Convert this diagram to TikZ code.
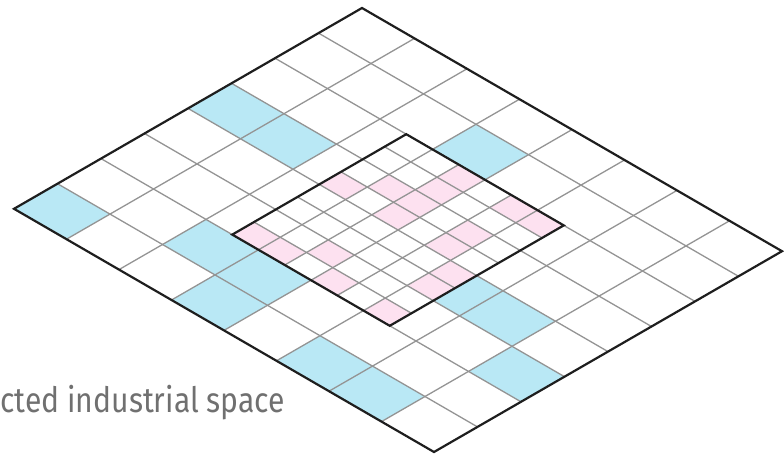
\documentclass[tikz,border=0pt]{standalone}
\usepackage{fontspec}
\setmainfont{Fira Sans}
\definecolor{cellblue}{HTML}{B9E8F5}
\definecolor{cellpink}{HTML}{FDE1F0}
\definecolor{gridgray}{HTML}{949494}
\definecolor{outlinecol}{HTML}{1E1E1E}
\definecolor{labelgray}{HTML}{707070}
\begin{document}
\begin{tikzpicture}[x=1pt,y=-1pt,
  gridline/.style={draw=gridgray,line width=1.3pt},
  outerline/.style={draw=outlinecol,line width=2.2pt},
  bluecell/.style={fill=cellblue},
  pinkcell/.style={fill=cellpink}]
\useasboundingbox (0,0) rectangle (784,457);
\begin{scope}[shift={(362pt,-8pt)},x={(52.5pt,-30.4pt)},y={(-43.5pt,-25.1pt)}]
  % blue cells of the outer grid
  \foreach \a/\b in {0/3,1/3,0/7,3/1,2/6,3/6,3/7,5/4,6/4,7/5,5/7,6/7}
    \path[bluecell] (\a,\b) -- ++(1,0) -- ++(0,1) -- ++(-1,0) -- cycle;
  % outer grid
  \foreach \k in {1,...,7} {
    \draw[gridline] (\k,0) -- (\k,8);
    \draw[gridline] (0,\k) -- (8,\k);
  }
  % inner area
  \fill[white] (2.5,2) -- (5.5,2) -- (5.5,6) -- (2.5,6) -- cycle;
  \foreach \i/\j in {0/3,1/2,2/0,2/1,2/2,2/3,4/0,5/0,0/7,1/7,2/6,3/7,5/7,4/2,4/3,5/4,5/5}
    \path[pinkcell] ({2.5+\i/2},{2+\j/2}) -- ++(0.5,0) -- ++(0,0.5) -- ++(-0.5,0) -- cycle;
  \foreach \a in {3,3.5,...,5}
    \draw[gridline] (\a,2) -- (\a,6);
  \foreach \b in {2.5,3,...,5.5}
    \draw[gridline] (2.5,\b) -- (5.5,\b);
  % outlines
  \draw[outerline] (2.5,2) -- (5.5,2) -- (5.5,6) -- (2.5,6) -- cycle;
  \draw[outerline] (0,0) -- (8,0) -- (8,8) -- (0,8) -- cycle;
\end{scope}
\node[anchor=base west, inner sep=0pt, text=labelgray,
      font=\fontsize{35}{38}\selectfont] (lbl) at (0,412.7)
      {\scalebox{0.86}[1]{cted industrial space}};
\end{tikzpicture}
\end{document}
